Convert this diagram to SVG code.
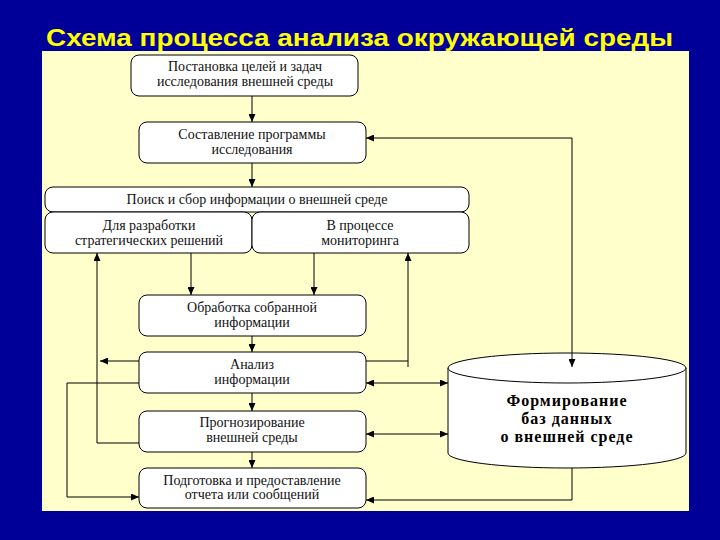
<svg xmlns="http://www.w3.org/2000/svg" width="720" height="540" viewBox="0 0 720 540">
<defs>
<style>
.box{fill:#ffffff;stroke:#000000;stroke-width:1}
.t{font-family:"Liberation Serif","Times New Roman",serif;font-size:14px;fill:#111111;text-anchor:middle}
.ct{font-family:"Liberation Serif","Times New Roman",serif;font-size:16px;letter-spacing:1px;font-weight:bold;fill:#000000;text-anchor:middle}
.ln{fill:none;stroke:#000000;stroke-width:1}
</style>
<marker id="ah" viewBox="0 0 8 7" refX="8" refY="3.5" markerWidth="8" markerHeight="7" markerUnits="userSpaceOnUse" orient="auto-start-reverse">
<path d="M0,0 L8,3.5 L0,7 z" fill="#000000"/>
</marker>
</defs>
<rect x="0" y="0" width="720" height="540" fill="#000099"/>
<rect x="42" y="51" width="647" height="460" fill="#FFFFCC"/>
<text x="46" y="46" font-family="Liberation Sans, Arial, sans-serif" font-size="23" font-weight="bold" fill="#FFFF00" textLength="627" lengthAdjust="spacingAndGlyphs">Схема процесса анализа окружающей среды</text>

<g id="n1"><rect class="box" x="131" y="55" width="227" height="41" rx="8"/>
<text class="t" x="245" y="71">Постановка целей и задач</text>
<text class="t" x="245" y="86">исследования внешней среды</text></g>

<g id="n2"><rect class="box" x="139" y="122" width="227" height="41" rx="8"/>
<text class="t" x="252" y="139">Составление программы</text>
<text class="t" x="252" y="154">исследования</text></g>

<g id="n3"><rect class="box" x="45" y="187" width="424" height="25" rx="8"/>
<text class="t" x="257" y="204">Поиск и сбор информации о внешней среде</text></g>

<g id="n4"><rect class="box" x="45" y="212" width="207" height="41" rx="8"/>
<text class="t" x="149" y="230">Для разработки</text>
<text class="t" x="149" y="245">стратегических решений</text></g>

<g id="n5"><rect class="box" x="252" y="212" width="217" height="41" rx="8"/>
<text class="t" x="360" y="230">В процессе</text>
<text class="t" x="360" y="245">мониторинга</text></g>

<g id="n6"><rect class="box" x="139" y="295" width="227" height="41" rx="8"/>
<text class="t" x="252" y="312">Обработка собранной</text>
<text class="t" x="252" y="327">информации</text></g>

<g id="n7"><rect class="box" x="139" y="352" width="227" height="41" rx="8"/>
<text class="t" x="252" y="369">Анализ</text>
<text class="t" x="252" y="384">информации</text></g>

<g id="n8"><rect class="box" x="139" y="411" width="227" height="41" rx="8"/>
<text class="t" x="252" y="427">Прогнозирование</text>
<text class="t" x="252" y="442">внешней среды</text></g>

<g id="n9"><rect class="box" x="139" y="468" width="227" height="40" rx="8"/>
<text class="t" x="252" y="485">Подготовка и предоставление</text>
<text class="t" x="252" y="499">отчета или сообщений</text></g>

<g id="db">
<path class="box" d="M448,368 L686,368 L686,453 A119,15 0 0 1 448,453 Z"/>
<ellipse class="box" cx="567" cy="368" rx="119" ry="15"/>
<text class="ct" x="567" y="406">Формирование</text>
<text class="ct" x="567" y="424">баз данных</text>
<text class="ct" x="567" y="442">о внешней среде</text>
</g>

<g id="connectors">
<line class="ln" x1="252" y1="96" x2="252" y2="122" marker-end="url(#ah)"/>
<line class="ln" x1="252" y1="163" x2="252" y2="187" marker-end="url(#ah)"/>
<line class="ln" x1="191" y1="253" x2="191" y2="295" marker-end="url(#ah)"/>
<line class="ln" x1="314" y1="253" x2="314" y2="295" marker-end="url(#ah)"/>
<line class="ln" x1="252" y1="336" x2="252" y2="352" marker-end="url(#ah)"/>
<line class="ln" x1="252" y1="393" x2="252" y2="411" marker-end="url(#ah)"/>
<line class="ln" x1="252" y1="452" x2="252" y2="468" marker-end="url(#ah)"/>
<polyline class="ln" points="139,443 97,443 97,253" marker-end="url(#ah)"/>
<line class="ln" x1="139" y1="361" x2="100" y2="361" marker-end="url(#ah)"/>
<polyline class="ln" points="139,383 67,383 67,497 139,497" marker-end="url(#ah)"/>
<polyline class="ln" points="366,361 408,361 408,367"/>
<line class="ln" x1="408" y1="361" x2="408" y2="253" marker-end="url(#ah)"/>
<line class="ln" x1="366" y1="383" x2="448" y2="383" marker-start="url(#ah)" marker-end="url(#ah)"/>
<line class="ln" x1="366" y1="434" x2="448" y2="434" marker-start="url(#ah)" marker-end="url(#ah)"/>
<polyline class="ln" points="366,138 572,138 572,367" marker-start="url(#ah)" marker-end="url(#ah)"/>
<polyline class="ln" points="572,468 572,500 366,500" marker-end="url(#ah)"/>
</g>
</svg>
